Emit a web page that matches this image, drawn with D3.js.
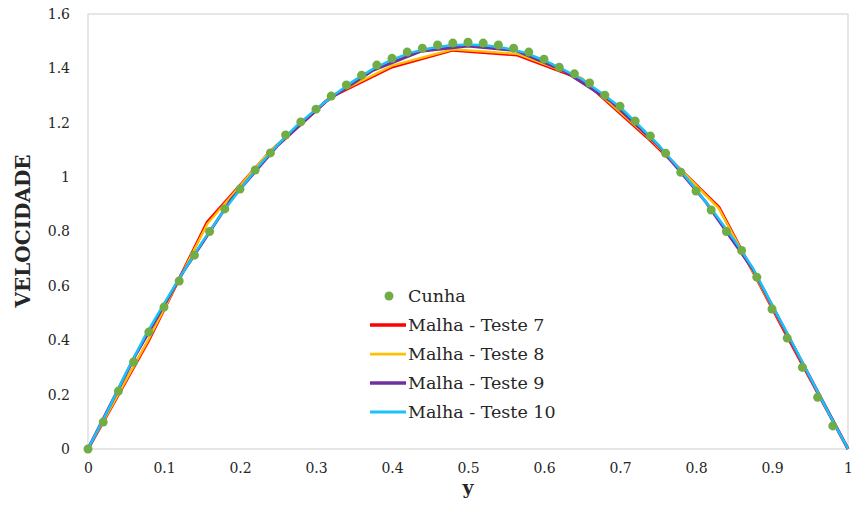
<!DOCTYPE html>
<html>
<head>
<meta charset="utf-8">
<script src="https://cdn.jsdelivr.net/npm/d3@7"></script>
<style>
  html, body { margin: 0; padding: 0; background: #fff; }
  svg { display: block; }
  text { font-family: "DejaVu Serif", "Liberation Serif", serif; fill: #262626; }
</style>
</head>
<body>
<svg id="chart" width="853" height="526"></svg>
<script>
// ---------- DATA ----------
const xTicks = [0, 0.1, 0.2, 0.3, 0.4, 0.5, 0.6, 0.7, 0.8, 0.9, 1];
const yTicks = [0, 0.2, 0.4, 0.6, 0.8, 1, 1.2, 1.4, 1.6];

// Cunha (markers)
const cunhaX = [0, 0.02, 0.04, 0.06, 0.08, 0.10, 0.12, 0.14, 0.16, 0.18,
                0.20, 0.22, 0.24, 0.26, 0.28, 0.30, 0.32, 0.34, 0.36, 0.38,
                0.40, 0.42, 0.44, 0.46, 0.48, 0.50, 0.52, 0.54, 0.56, 0.58,
                0.60, 0.62, 0.64, 0.66, 0.68, 0.70, 0.72, 0.74, 0.76, 0.78,
                0.80, 0.82, 0.84, 0.86, 0.88, 0.90, 0.92, 0.94, 0.96, 0.98];
const cunhaY = [0, 0.099, 0.213, 0.320, 0.430, 0.522, 0.618, 0.713, 0.800, 0.883,
                0.956, 1.026, 1.089, 1.155, 1.203, 1.250, 1.298, 1.339, 1.375, 1.412,
                1.437, 1.460, 1.474, 1.486, 1.493, 1.496, 1.493, 1.486, 1.474, 1.460,
                1.434, 1.404, 1.380, 1.346, 1.301, 1.261, 1.206, 1.151, 1.088, 1.018,
                0.949, 0.879, 0.800, 0.730, 0.632, 0.515, 0.408, 0.300, 0.190, 0.085];

// Malha - Teste 7
const t7X = [0, 0.08, 0.157, 0.24, 0.32, 0.40, 0.48, 0.565, 0.65, 0.74, 0.83, 0.915, 1];
const t7Y = [0, 0.400, 0.835, 1.095, 1.295, 1.405, 1.467, 1.449, 1.360, 1.135, 0.890, 0.440, 0];

// Malha - Teste 8
const t8X = [0, 0.08, 0.157, 0.24, 0.32, 0.40, 0.48, 0.565, 0.65, 0.74, 0.83, 0.915, 1];
const t8Y = [0, 0.405, 0.828, 1.098, 1.298, 1.410, 1.470, 1.453, 1.364, 1.140, 0.885, 0.445, 0];

// Malha - Teste 9
const t9X = [0, 0.0625, 0.125, 0.1875, 0.25, 0.3125, 0.375, 0.4375, 0.5,
             0.5625, 0.625, 0.6875, 0.75, 0.8125, 0.875, 0.9375, 1];
const t9Y = [0, 0.345, 0.650, 0.915, 1.118, 1.278, 1.393, 1.463, 1.482,
             1.466, 1.393, 1.280, 1.118, 0.910, 0.660, 0.330, 0];

// Malha - Teste 10
const t10X = [0, 0.025, 0.05, 0.075, 0.1, 0.125, 0.15, 0.175, 0.2, 0.225,
              0.25, 0.275, 0.3, 0.325, 0.35, 0.375, 0.4, 0.425, 0.45, 0.475,
              0.5, 0.525, 0.55, 0.575, 0.6, 0.625, 0.65, 0.675, 0.7, 0.725,
              0.75, 0.775, 0.8, 0.825, 0.85, 0.875, 0.9, 0.925, 0.95, 0.975, 1];
const t10Y = [0, 0.135, 0.280, 0.415, 0.535, 0.650, 0.760, 0.862, 0.955, 1.042,
              1.120, 1.190, 1.250, 1.305, 1.355, 1.398, 1.432, 1.458, 1.474, 1.484,
              1.488, 1.484, 1.474, 1.458, 1.430, 1.396, 1.360, 1.310, 1.258, 1.190,
              1.120, 1.040, 0.955, 0.865, 0.770, 0.665, 0.530, 0.400, 0.265, 0.130, 0];

const seriesNames = ["Cunha", "Malha - Teste 7", "Malha - Teste 8", "Malha - Teste 9", "Malha - Teste 10"];

// ---------- CHART ----------
const svg = d3.select("#chart");
const W = 853, H = 526;
const m = { left: 88, right: 848, top: 14, bottom: 449 };

svg.append("rect").attr("width", W).attr("height", H).attr("fill", "#fff");

const x = d3.scaleLinear().domain([0, 1]).range([m.left, m.right]);
const y = d3.scaleLinear().domain([0, 1.6]).range([m.bottom, m.top]);

// plot frame
svg.append("rect")
  .attr("x", m.left).attr("y", m.top)
  .attr("width", m.right - m.left).attr("height", m.bottom - m.top)
  .attr("fill", "none").attr("stroke", "#d9d9d9").attr("stroke-width", 1.3);

// axes (labels only)
const xAxis = d3.axisBottom(x).tickValues(xTicks).tickSize(0).tickPadding(0)
  .tickFormat(d => d3.format("~g")(d));
const gx = svg.append("g").attr("transform", `translate(0,${m.bottom + 14})`).call(xAxis);
gx.select(".domain").remove();
gx.selectAll("text").attr("font-size", 14).attr("font-family", "DejaVu Serif").attr("fill", "#262626");

const yAxis = d3.axisLeft(y).tickValues(yTicks).tickSize(0).tickPadding(0)
  .tickFormat(d => d3.format("~g")(d));
const gy = svg.append("g").attr("transform", `translate(${m.left - 18},0)`).call(yAxis);
gy.select(".domain").remove();
gy.selectAll("text").attr("font-size", 14).attr("font-family", "DejaVu Serif").attr("fill", "#262626");

// axis titles
svg.append("text")
  .attr("transform", `translate(30,231) rotate(-90)`)
  .attr("text-anchor", "middle")
  .attr("font-size", 20).attr("font-weight", "bold")
  .text("VELOCIDADE");
svg.append("text")
  .attr("x", 468).attr("y", 494)
  .attr("text-anchor", "middle")
  .attr("font-size", 19).attr("font-weight", "bold")
  .text("y");

// lines
const line = d3.line().x(d => x(d[0])).y(d => y(d[1]));
const lines = [
  { xs: t7X, ys: t7Y, color: "#ff0000", w: 3 },
  { xs: t8X, ys: t8Y, color: "#ffc000", w: 2.25 },
  { xs: t9X, ys: t9Y, color: "#7030a0", w: 3 },
  { xs: t10X, ys: t10Y, color: "#19c3f5", w: 2.5 }
];
lines.forEach(s => {
  svg.append("path")
    .datum(d3.zip(s.xs, s.ys))
    .attr("d", line)
    .attr("fill", "none")
    .attr("stroke", s.color)
    .attr("stroke-width", s.w)
    .attr("stroke-linejoin", "round");
});

// markers
svg.append("g").selectAll("circle")
  .data(d3.zip(cunhaX, cunhaY))
  .join("circle")
  .attr("cx", d => x(d[0])).attr("cy", d => y(d[1]))
  .attr("r", 4.5).attr("fill", "#70ad47");

// legend
const lg = svg.append("g");
const legY = [296, 325, 354, 383, 412];
lg.append("circle").attr("cx", 389).attr("cy", legY[0]).attr("r", 4.5).attr("fill", "#70ad47");
lines.forEach((s, i) => {
  lg.append("line")
    .attr("x1", 370).attr("x2", 406)
    .attr("y1", legY[i + 1]).attr("y2", legY[i + 1])
    .attr("stroke", s.color).attr("stroke-width", s.w + 0.5);
});
seriesNames.forEach((n, i) => {
  lg.append("text")
    .attr("x", 408).attr("y", legY[i])
    .attr("dy", "0.35em")
    .attr("font-size", 17.5)
    .text(n);
});
</script>
</body>
</html>
